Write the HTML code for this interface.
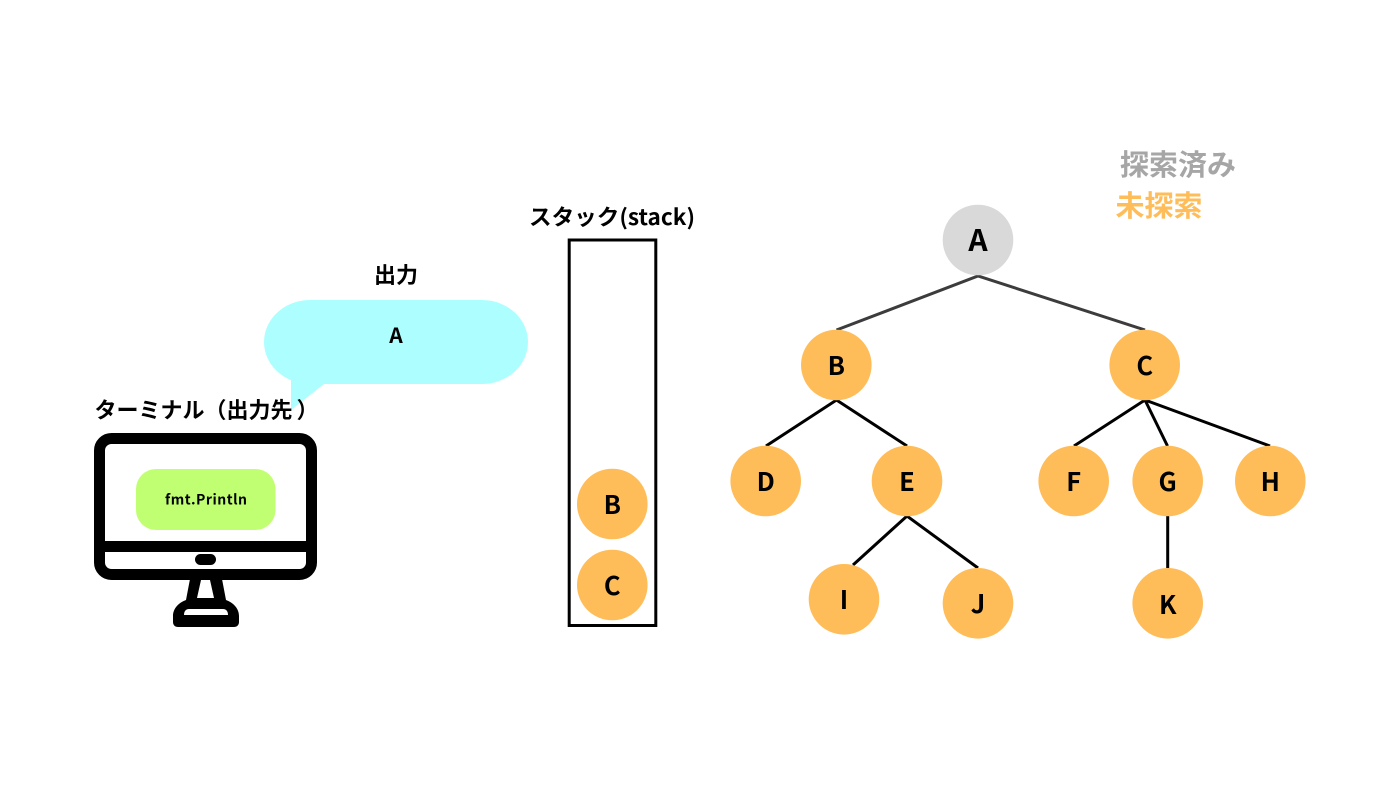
<!DOCTYPE html>
<html lang="ja">
<head>
<meta charset="utf-8">
<title>Stack DFS diagram</title>
<style>
html,body{margin:0;padding:0;background:#fff;width:1400px;height:787px;overflow:hidden}
svg{display:block}
text{font-family:"Noto Sans CJK JP","Liberation Sans",sans-serif;font-weight:700;fill:#000;text-anchor:middle}
.n{font-size:25.5px}
.l{font-size:22px}
</style>
</head>
<body>
<svg width="1400" height="787" viewBox="0 0 1400 787" xmlns="http://www.w3.org/2000/svg">
<rect width="1400" height="787" fill="#fff"/>

<!-- bubble -->
<path d="M310 300H482A46 42 0 0 1 482 384H324L291 410V380.250A46 42 0 0 1 310 300Z" fill="#adffff"/>
<text class="l" x="396" y="283">出力</text>
<text x="396" y="343" style="font-size:21px">A</text>
<text class="l" x="94.500" y="418" style="text-anchor:start">ターミナル（出力先<tspan dx="4">）</tspan></text>

<!-- monitor -->
<rect x="99.500" y="438.500" width="212" height="136" rx="12" fill="none" stroke="#000" stroke-width="11"/>
<rect x="100" y="541" width="210" height="11" fill="#000"/>
<rect x="195" y="554" width="21" height="11" rx="5.500" fill="#000"/>
<path d="M190 579H222L226 600C234 603 239 609 239 616V622C239 625 237 627 234 627H178C175 627 173 625 173 622V616C173 609 178 603 186 600Z" fill="#000"/>
<path d="M201 580H210L214 598H197Z" fill="#fff"/>
<path d="M184 615C184 611 186 609 189 609H223C226 609 228 611 228 615Z" fill="#fff"/>
<rect x="136" y="469" width="139.500" height="61" rx="20" fill="#c1ff72"/>
<text x="206" y="504.500" textLength="82" lengthAdjust="spacing" style="font-size:14px">fmt.Println</text>

<!-- stack -->
<text class="l" x="612" y="225" textLength="166" lengthAdjust="spacingAndGlyphs">スタック(stack)</text>
<rect x="569.200" y="240" width="86.600" height="385.500" fill="none" stroke="#000" stroke-width="3"/>
<circle cx="612.300" cy="504" r="35.300" fill="#ffbd59"/>
<circle cx="612.300" cy="585" r="35.300" fill="#ffbd59"/>
<text class="n" x="612.300" y="514">B</text>
<text class="n" x="612.300" y="595">C</text>

<!-- legend -->
<text x="1178" y="175" style="font-size:29px;fill:#a6a6a6">探索済み</text>
<text x="1159" y="216" style="font-size:29px;fill:#ffbd59">未探索</text>

<!-- edges -->
<g fill="none" stroke="#3c3c3c" stroke-width="3">
<path d="M836.500 330L978 276L1145 330"/>
</g>
<g fill="none" stroke="#000" stroke-width="3">
<path d="M766 446L836.500 400L907 446"/>
<path d="M1074 446L1145 400L1167.500 446M1145 400L1270 446"/>
<path d="M853 565L907 516L978 568"/>
<path d="M1167.700 516V568"/>
</g>

<!-- nodes -->
<g fill="#ffbd59">
<circle cx="978" cy="240" r="35.300" fill="#d9d9d9"/>
<circle cx="836.300" cy="365" r="35.300"/>
<circle cx="1144.700" cy="365" r="35.300"/>
<circle cx="765.700" cy="481" r="35.300"/>
<circle cx="907" cy="481" r="35.300"/>
<circle cx="1073.700" cy="481" r="35.300"/>
<circle cx="1167.700" cy="481" r="35.300"/>
<circle cx="1270.300" cy="481" r="35.300"/>
<circle cx="844" cy="599.300" r="35.300"/>
<circle cx="978" cy="603.300" r="35.300"/>
<circle cx="1167.700" cy="603.300" r="35.300"/>
</g>
<text x="978" y="251" style="font-size:30px">A</text>
<text class="n" x="836.300" y="375">B</text>
<text class="n" x="1144.700" y="375">C</text>
<text class="n" x="765.700" y="491">D</text>
<text class="n" x="907" y="491">E</text>
<text class="n" x="1073.700" y="491">F</text>
<text class="n" x="1167.700" y="491">G</text>
<text class="n" x="1270.300" y="491">H</text>
<text class="n" x="844" y="609">I</text>
<text class="n" x="978" y="613">J</text>
<text class="n" x="1167.700" y="614">K</text>
</svg>
</body>
</html>
